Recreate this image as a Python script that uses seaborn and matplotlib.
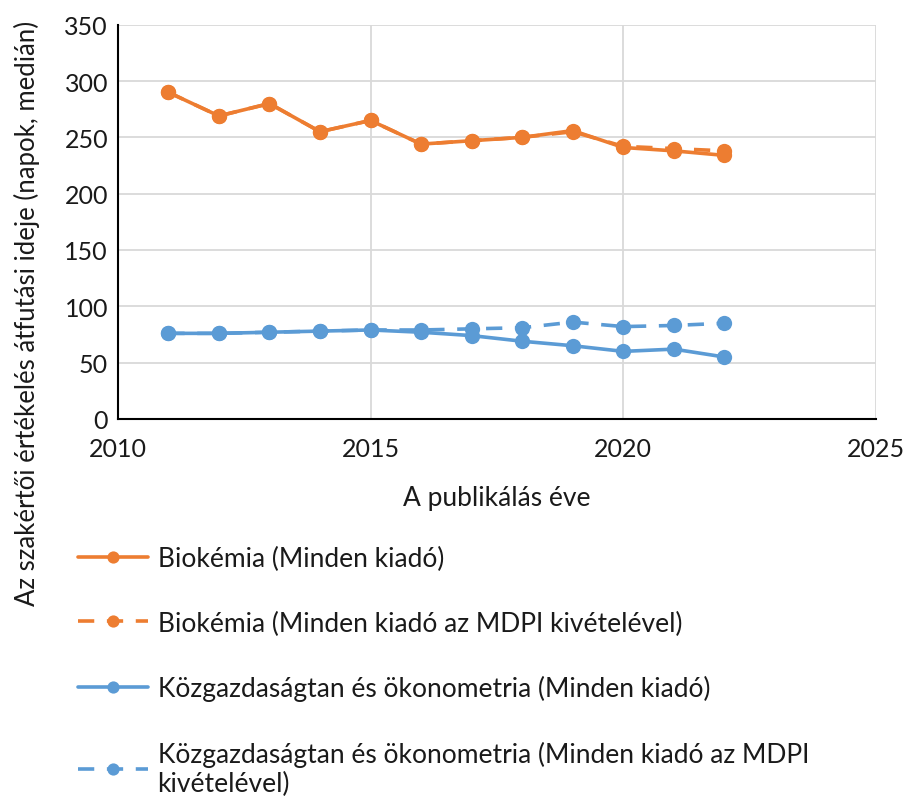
import matplotlib

matplotlib.use("Agg")

import matplotlib.pyplot as plt
import pandas as pd
import seaborn as sns


YEARS = list(range(2011, 2023))
BIO_ALL = [290, 269, 280, 255, 265, 244, 247, 250, 256, 241, 238, 234]
BIO_NO_MDPI = [290, 269, 280, 255, 265, 244, 247, 250, 255, 242, 240, 238]
ECON_ALL = [76, 76, 77, 78, 79, 77, 74, 69, 65, 60, 62, 55]
ECON_NO_MDPI = [76, 76, 77, 78, 79, 79, 80, 81, 86, 82, 83, 85]

SERIES = [
    "Biokémia (Minden kiadó)",
    "Biokémia (Minden kiadó az MDPI kivételével)",
    "Közgazdaságtan és ökonometria (Minden kiadó)",
    "Közgazdaságtan és ökonometria (Minden kiadó az MDPI\nkivételével)",
]
VALUES = [BIO_ALL, BIO_NO_MDPI, ECON_ALL, ECON_NO_MDPI]

ORANGE = "#ED7D31"
BLUE = "#5B9BD5"
COLORS = [ORANGE, ORANGE, BLUE, BLUE]
DASHES = ["", (4.5, 3.5), "", (4.5, 3.5)]

X_TICKS = [2010, 2015, 2020, 2025]
Y_TICKS = [0, 50, 100, 150, 200, 250, 300, 350]

TEXT = "#1a1a1a"


def build_frame() -> pd.DataFrame:
    rows = []
    for name, vals in zip(SERIES, VALUES):
        for year, v in zip(YEARS, vals):
            rows.append({"Year": year, "Value": v, "Series": name})
    return pd.DataFrame(rows)


def main() -> None:
    sns.set_theme(style="white")
    plt.rcParams["font.family"] = ["Lato", "DejaVu Sans"]

    df = build_frame()

    fig = plt.figure(figsize=(9.06, 8.03), dpi=100)
    ax = fig.add_axes([0.130, 0.477, 0.837, 0.491])

    sns.lineplot(
        data=df,
        x="Year",
        y="Value",
        hue="Series",
        style="Series",
        hue_order=SERIES,
        style_order=SERIES,
        palette=dict(zip(SERIES, COLORS)),
        dashes=dict(zip(SERIES, DASHES)),
        markers={s: "o" for s in SERIES},
        markersize=11,
        markeredgewidth=0,
        linewidth=2.6,
        ax=ax,
    )

    ax.set_xlim(2010, 2025)
    ax.set_ylim(0, 350)
    ax.set_xticks(X_TICKS)
    ax.set_yticks(Y_TICKS)
    ax.grid(True, color="#D9D9D9", linewidth=1.3)
    ax.set_axisbelow(True)
    for side in ["top", "right"]:
        ax.spines[side].set_visible(False)
    for side in ["left", "bottom"]:
        ax.spines[side].set_color("black")
        ax.spines[side].set_linewidth(1.5)
    ax.tick_params(axis="both", labelsize=18, length=0, colors=TEXT)
    ax.tick_params(axis="x", pad=13)
    ax.tick_params(axis="y", pad=7)

    ax.set_xlabel("A publikálás éve", fontsize=19, color=TEXT, labelpad=18)
    ax.set_ylabel(
        "Az szakértői értékelés átfutási ideje (napok, medián)",
        fontsize=18.5,
        color=TEXT,
    )
    ax.yaxis.set_label_coords(-0.103, 0.27)

    handles, labels = ax.get_legend_handles_labels()
    ax.legend_.remove()
    fig.legend(
        handles,
        labels,
        loc="upper left",
        bbox_to_anchor=(0.074, 0.332),
        frameon=False,
        fontsize=19,
        markerscale=0.8,
        handlelength=2.65,
        handletextpad=0.38,
        labelspacing=1.5,
        borderaxespad=0,
        labelcolor=TEXT,
    )

    fig.savefig("out.png", dpi=100)
    plt.close(fig)


if __name__ == "__main__":
    main()
